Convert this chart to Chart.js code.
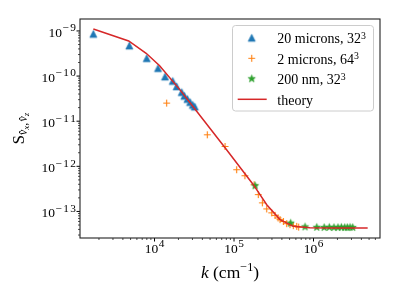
<!DOCTYPE html>
<html>
<head>
<meta charset="utf-8">
<script src="https://cdn.jsdelivr.net/npm/chart.js@4.4.0/dist/chart.umd.min.js"></script>
<style>
    html, body { margin: 0; padding: 0; background: #fff; }
    #contenedor { width: 399px; height: 299px; position: relative; }
</style>
</head>
<body>
<div id="contenedor"><canvas id="grafico"></canvas></div>
<script>
// Datos (k en cm^-1)
const kAzul = [1700, 4820, 7980, 11070, 13560, 16940, 19000, 22000, 23700, 25900, 28000, 30300, 32100];
const sAzul = [8.6e-10, 4.73e-10, 2.49e-10, 1.5e-10, 9.75e-11, 7.8e-11, 5.9e-11, 4.4e-11, 3.65e-11, 3.1e-11, 2.65e-11, 2.3e-11, 2.1e-11];

const kNaranja = [14200, 46100, 77100, 108000, 137000, 179000, 202000, 227000, 258000, 298000, 328000, 358000, 379000, 417000, 460000, 506000, 557000, 615000, 650000];
const sNaranja = [2.52e-11, 5.0e-12, 2.75e-12, 8.4e-13, 6.2e-13, 3.9e-13, 2.36e-13, 1.55e-13, 1.14e-13, 9.3e-14, 8.2e-14, 7.2e-14, 6.6e-14, 6.0e-14, 5.37e-14, 5.1e-14, 4.85e-14, 4.68e-14, 4.5e-14];

const kVerde = [184000, 516000, 782000, 1100000, 1360000, 1580000, 1810000, 2030000, 2240000, 2470000, 2660000, 2880000, 3110000];
const sVerde = [3.7e-13, 5.5e-14, 4.55e-14, 4.45e-14, 4.4e-14, 4.45e-14, 4.4e-14, 4.4e-14, 4.45e-14, 4.4e-14, 4.4e-14, 4.45e-14, 4.4e-14];

const kTeoria = [1700, 4730, 7850, 11600, 20900, 33700, 77600, 175000, 258000, 379000, 557000, 897000, 1800000, 4800000];
const sTeoria = [1.1e-9, 6.0e-10, 3.2e-10, 1.7e-10, 4.95e-11, 1.68e-11, 2.55e-12, 3.92e-13, 1.41e-13, 6.6e-14, 4.68e-14, 4.33e-14, 4.31e-14, 4.31e-14];

const etiquetas = ['20 microns, 32', '2 microns, 64', '200 nm, 32', 'theory'];
const exponentesLeyenda = ['3', '3', '3', ''];

const xRango = [1155, 6.86e6];
const yRango = [2.58e-14, 1.84e-9];

const COLORES = {
    azul: '#1f77b4',
    naranja: '#ff7f0e',
    verde: '#2ca02c',
    rojo: '#d62728'
};
const SERIF = '"Liberation Serif", "DejaVu Serif", serif';

function puntos(ks, ss) {
    return ks.map((k, i) => ({ x: k, y: ss[i] }));
}

// Marcadores estilo matplotlib dibujados en un canvas pequeño
function marcador(tipo, color) {
    const c = document.createElement('canvas');
    c.width = 11;
    c.height = 11;
    const ctx = c.getContext('2d');
    const m = 5.5;
    ctx.fillStyle = color;
    ctx.strokeStyle = color;
    ctx.beginPath();
    if (tipo === 'triangulo') {
        const h = 3.6;
        ctx.moveTo(m, m - h);
        ctx.lineTo(m + h, m + h);
        ctx.lineTo(m - h, m + h);
        ctx.closePath();
        ctx.fill();
        ctx.lineWidth = 0.6;
        ctx.stroke();
    } else if (tipo === 'estrella') {
        const R = 3.8, r = R * 0.382;
        for (let i = 0; i < 10; i++) {
            const ang = -Math.PI / 2 + i * Math.PI / 5;
            const rad = i % 2 ? r : R;
            ctx.lineTo(m + rad * Math.cos(ang), m + rad * Math.sin(ang));
        }
        ctx.closePath();
        ctx.fill();
        ctx.lineWidth = 0.8;
        ctx.stroke();
    } else {
        ctx.lineWidth = 1.1;
        ctx.moveTo(m - 3.4, m);
        ctx.lineTo(m + 3.4, m);
        ctx.moveTo(m, m - 3.4);
        ctx.lineTo(m, m + 3.4);
        ctx.stroke();
    }
    return c;
}

const marcadores = [
    marcador('triangulo', COLORES.azul),
    marcador('cruz', COLORES.naranja),
    marcador('estrella', COLORES.verde)
];

function fuente(p, escala) {
    return (p.italic ? 'italic ' : '') + (p.size * escala).toFixed(2) + 'px ' + SERIF;
}

function dibujarPiezas(ctx, piezas, x0, base, escala) {
    let x = x0;
    piezas.forEach(p => {
        ctx.font = fuente(p, escala);
        ctx.fillText(p.t, x, base + (p.dy || 0) * escala);
        x += ctx.measureText(p.t).width + (p.dx || 0) * escala;
    });
    return x - x0;
}

function anchoPiezas(ctx, piezas, escala) {
    let w = 0;
    piezas.forEach(p => {
        ctx.font = fuente(p, escala);
        w += ctx.measureText(p.t).width + (p.dx || 0) * escala;
    });
    return w;
}

// "10" con exponente; el exponente va letra a letra, algo espaciado
function potencia(exp) {
    const piezas = [{ t: '10', size: 1, dx: 0.04 }];
    String(exp).replace('-', '\u2212').split('').forEach(ch => {
        piezas.push({ t: ch, size: 0.84, dy: -0.4, dx: 0.1 });
    });
    piezas[piezas.length - 1].dx = 0;
    return piezas;
}

const TAM_TICK = 13.5;

// Ejes, marcas, etiquetas y leyenda al estilo matplotlib
const ejesPlugin = {
    id: 'ejesMatplotlib',
    afterDraw(chart) {
        const { ctx, chartArea: a, scales } = chart;
        const sx = scales.x, sy = scales.y;
        ctx.save();
        ctx.fillStyle = '#000';
        ctx.strokeStyle = '#000';

        // marcas del eje x
        for (let e = 3; e <= 6; e++) {
            for (let m = 1; m <= 9; m++) {
                const v = m * Math.pow(10, e);
                if (v < xRango[0] || v > xRango[1]) continue;
                const px = sx.getPixelForValue(v);
                ctx.lineWidth = m === 1 ? 1 : 0.7;
                ctx.beginPath();
                ctx.moveTo(px, a.bottom);
                ctx.lineTo(px, a.bottom + (m === 1 ? 3.5 : 2));
                ctx.stroke();
                if (m === 1 && e >= 4) {
                    const piezas = potencia(e);
                    const w = anchoPiezas(ctx, piezas, TAM_TICK);
                    dibujarPiezas(ctx, piezas, px - w / 2, a.bottom + 14.5, TAM_TICK);
                }
            }
        }

        // marcas del eje y
        for (let e = -14; e <= -9; e++) {
            for (let m = 1; m <= 9; m++) {
                const v = m * Math.pow(10, e);
                if (v < yRango[0] || v > yRango[1]) continue;
                const py = sy.getPixelForValue(v);
                ctx.lineWidth = m === 1 ? 1 : 0.7;
                ctx.beginPath();
                ctx.moveTo(a.left, py);
                ctx.lineTo(a.left - (m === 1 ? 3.5 : 2), py);
                ctx.stroke();
                if (m === 1) {
                    const piezas = potencia(e);
                    const w = anchoPiezas(ctx, piezas, TAM_TICK);
                    dibujarPiezas(ctx, piezas, a.left - 4 - w, py + 5.8, TAM_TICK);
                }
            }
        }

        // marco
        ctx.lineWidth = 1.1;
        ctx.strokeStyle = '#222';
        ctx.strokeRect(a.left, a.top, a.right - a.left, a.bottom - a.top);

        // etiqueta x
        const etiquetaX = [
            { t: 'k', size: 1, italic: true },
            { t: ' (cm', size: 1 },
            { t: '\u22121', size: 0.7, dy: -0.4 },
            { t: ')', size: 1 }
        ];
        const wx = anchoPiezas(ctx, etiquetaX, 17.5);
        dibujarPiezas(ctx, etiquetaX, (a.left + a.right) / 2 - wx / 2, 277.5, 17.5);

        // etiqueta y (rotada)
        const etiquetaY = [
            { t: 'S', size: 1 },
            { t: 'v\u0302', size: 0.72, italic: true, dy: 0.22 },
            { t: 'x', size: 0.55, italic: true, dy: 0.36 },
            { t: ',', size: 0.72, dy: 0.22, dx: 0.08 },
            { t: 'v\u0302', size: 0.72, italic: true, dy: 0.22 },
            { t: 'z', size: 0.55, italic: true, dy: 0.36 }
        ];
        ctx.save();
        ctx.translate(23.5, (a.top + a.bottom) / 2);
        ctx.rotate(-Math.PI / 2);
        const wy = anchoPiezas(ctx, etiquetaY, 16.5);
        dibujarPiezas(ctx, etiquetaY, -wy / 2, 0, 16.5);
        ctx.restore();

        // leyenda
        ctx.fillStyle = 'rgba(255,255,255,0.8)';
        ctx.strokeStyle = '#cccccc';
        ctx.lineWidth = 1;
        ctx.beginPath();
        ctx.roundRect(232.5, 25.5, 141, 85.5, 3);
        ctx.fill();
        ctx.stroke();

        ctx.fillStyle = '#000';
        etiquetas.forEach((txt, i) => {
            const base = 43.3 + i * 20.5;
            const cy = base - 5.5;
            if (i < 3) {
                const img = marcadores[i];
                ctx.drawImage(img, 251.7 - img.width / 2, cy - img.height / 2);
            } else {
                ctx.strokeStyle = COLORES.rojo;
                ctx.lineWidth = 1.5;
                ctx.beginPath();
                ctx.moveTo(237.7, cy);
                ctx.lineTo(266.7, cy);
                ctx.stroke();
            }
            const piezas = [{ t: txt, size: 1 }];
            if (exponentesLeyenda[i]) piezas.push({ t: exponentesLeyenda[i], size: 0.7, dy: -0.34 });
            dibujarPiezas(ctx, piezas, 277.3, base, 14);
        });

        ctx.restore();
    }
};

const chart = new Chart(document.getElementById('grafico'), {
    type: 'scatter',
    data: {
        datasets: [
            {
                label: 'theory',
                data: puntos(kTeoria, sTeoria),
                showLine: true,
                borderColor: COLORES.rojo,
                borderWidth: 1.5,
                pointRadius: 0,
                fill: false,
                order: 0
            },
            {
                label: etiquetas[0] + '³',
                data: puntos(kAzul, sAzul),
                pointStyle: marcadores[0],
                pointRadius: 4,
                order: 3
            },
            {
                label: etiquetas[1] + '³',
                data: puntos(kNaranja, sNaranja),
                pointStyle: marcadores[1],
                pointRadius: 4,
                order: 2
            },
            {
                label: etiquetas[2] + '³',
                data: puntos(kVerde, sVerde),
                pointStyle: marcadores[2],
                pointRadius: 4,
                order: 1
            }
        ]
    },
    options: {
        responsive: true,
        maintainAspectRatio: false,
        animation: false,
        layout: { padding: { top: 19, right: 19, left: 0, bottom: 0 } },
        plugins: {
            legend: { display: false },
            tooltip: { enabled: false }
        },
        scales: {
            x: {
                type: 'logarithmic',
                min: xRango[0],
                max: xRango[1],
                ticks: { display: false },
                grid: { display: false },
                border: { display: false },
                afterFit: (escala) => { escala.height = 61; }
            },
            y: {
                type: 'logarithmic',
                min: yRango[0],
                max: yRango[1],
                ticks: { display: false },
                grid: { display: false },
                border: { display: false },
                afterFit: (escala) => { escala.width = 80; }
            }
        }
    },
    plugins: [ejesPlugin]
});
</script>
</body>
</html>
